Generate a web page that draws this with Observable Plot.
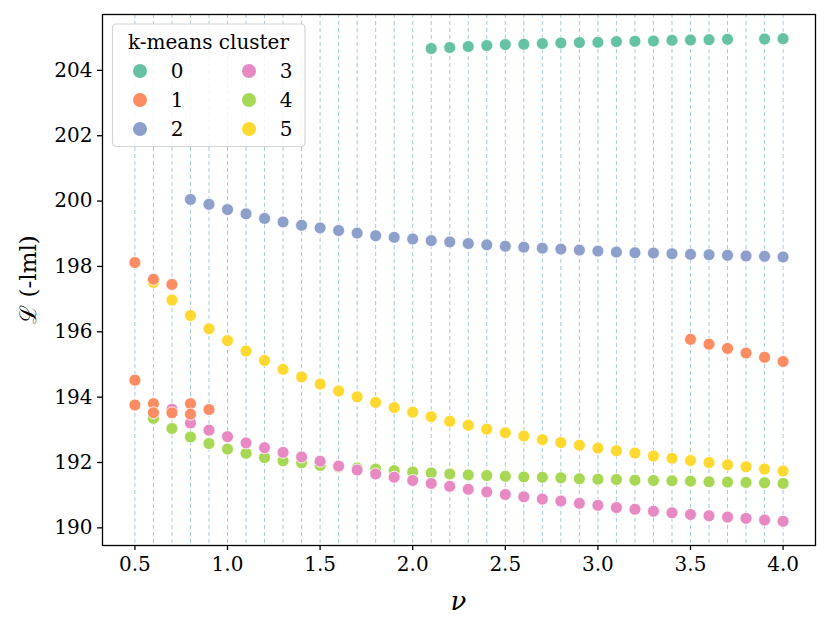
<!DOCTYPE html>
<html>
<head>
<meta charset="utf-8">
<script src="https://cdn.jsdelivr.net/npm/d3@7"></script>
<script src="https://cdn.jsdelivr.net/npm/@observablehq/plot@0.6"></script>
<style>
  html, body { margin: 0; padding: 0; background: #fff; }
  #chart svg { display: block; }
</style>
</head>
<body>
<div id="chart"></div>
<script>
// ---- data ----
const clusters = ["0", "1", "2", "3", "4", "5"];
const palette = ["#66c2a5", "#fc8d62", "#8da0cb", "#e78ac3", "#a6d854", "#ffd92f"];

const nu0 = [2.1,2.2,2.3,2.4,2.5,2.6,2.7,2.8,2.9,3.0,3.1,3.2,3.3,3.4,3.5,3.6,3.7,3.9,4.0];
const c0 = [204.67,204.70,204.73,204.76,204.79,204.80,204.82,204.84,204.85,204.86,204.88,204.89,204.90,204.92,204.93,204.94,204.95,204.96,204.97];

const nu1 = [0.5,0.5,0.5,0.6,0.6,0.6,0.7,0.7,0.8,0.8,0.9,3.5,3.6,3.7,3.8,3.9,4.0];
const c1 = [198.12,194.52,193.76,197.61,193.80,193.52,197.45,193.52,193.80,193.48,193.62,195.77,195.62,195.49,195.35,195.22,195.09];

const nu2 = [0.8,0.9,1.0,1.1,1.2,1.3,1.4,1.5,1.6,1.7,1.8,1.9,2.0,2.1,2.2,2.3,2.4,2.5,2.6,2.7,2.8,2.9,3.0,3.1,3.2,3.3,3.4,3.5,3.6,3.7,3.8,3.9,4.0];
const c2 = [200.05,199.90,199.74,199.61,199.47,199.36,199.26,199.18,199.10,199.02,198.94,198.89,198.84,198.79,198.75,198.70,198.66,198.62,198.59,198.56,198.53,198.50,198.47,198.44,198.42,198.41,198.39,198.37,198.36,198.34,198.32,198.31,198.29];

const nu3 = [0.7,0.8,0.9,1.0,1.1,1.2,1.3,1.4,1.5,1.6,1.7,1.8,1.9,2.0,2.1,2.2,2.3,2.4,2.5,2.6,2.7,2.8,2.9,3.0,3.1,3.2,3.3,3.4,3.5,3.6,3.7,3.8,3.9,4.0];
const c3 = [193.63,193.21,192.99,192.79,192.60,192.45,192.31,192.17,192.04,191.89,191.77,191.65,191.55,191.45,191.36,191.27,191.18,191.10,191.02,190.95,190.88,190.82,190.75,190.69,190.62,190.57,190.51,190.46,190.41,190.37,190.33,190.29,190.24,190.20];

const nu4 = [0.6,0.7,0.8,0.9,1.0,1.1,1.2,1.3,1.4,1.5,1.6,1.7,1.8,1.9,2.0,2.1,2.2,2.3,2.4,2.5,2.6,2.7,2.8,2.9,3.0,3.1,3.2,3.3,3.4,3.5,3.6,3.7,3.8,3.9,4.0];
const c4 = [193.35,193.04,192.78,192.58,192.41,192.28,192.15,192.05,191.99,191.91,191.86,191.83,191.80,191.75,191.71,191.68,191.65,191.62,191.60,191.58,191.56,191.55,191.53,191.50,191.49,191.48,191.46,191.45,191.44,191.43,191.41,191.40,191.39,191.38,191.36];

const nu5 = [0.6,0.7,0.8,0.9,1.0,1.1,1.2,1.3,1.4,1.5,1.6,1.7,1.8,1.9,2.0,2.1,2.2,2.3,2.4,2.5,2.6,2.7,2.8,2.9,3.0,3.1,3.2,3.3,3.4,3.5,3.6,3.7,3.8,3.9,4.0];
const c5 = [197.51,196.97,196.50,196.09,195.73,195.41,195.12,194.85,194.62,194.40,194.19,194.01,193.84,193.68,193.54,193.40,193.26,193.14,193.02,192.91,192.81,192.70,192.61,192.53,192.44,192.36,192.29,192.20,192.13,192.06,192.00,191.93,191.87,191.80,191.74];

const xTicks = [0.5,1.0,1.5,2.0,2.5,3.0,3.5,4.0];
const yTicks = [190,192,194,196,198,200,202,204];
const gridNu = [0.5,0.6,0.7,0.8,0.9,1.0,1.1,1.2,1.3,1.4,1.5,1.6,1.7,1.8,1.9,2.0,2.1,2.2,2.3,2.4,2.5,2.6,2.7,2.8,2.9,3.0,3.1,3.2,3.3,3.4,3.5,3.6,3.7,3.8,3.9,4.0];

const legendTitle = "k-means cluster";
const xLabel = "ν";
const yLabel = "ℒ (-lml)";

// ---- table ----
const series = [[nu0,c0,"0"],[nu2,c2,"2"],[nu5,c5,"5"],[nu4,c4,"4"],[nu3,c3,"3"],[nu1,c1,"1"]];
const rows = [];
for (const [xs, ys, k] of series) xs.forEach((x, i) => rows.push({nu: x, L: ys[i], cluster: k}));

const W = 830, H = 630;
const mL = 102, mR = 15, mT = 14, mB = 85;
const font = "'DejaVu Serif', serif";

const svg = Plot.plot({
  width: W, height: H,
  marginLeft: mL, marginRight: mR, marginTop: mT, marginBottom: mB,
  style: {fontFamily: font, fontSize: "20px", color: "#000", background: "#fff"},
  x: {domain: [0.325, 4.175], label: null},
  y: {domain: [189.46, 205.71], label: null},
  color: {domain: clusters, range: palette},
  marks: [
    Plot.ruleX(gridNu, {x: d => d, stroke: "#a4c8e2", strokeWidth: 1, strokeDasharray: "4,3"}),
    Plot.dot(rows, {x: "nu", y: "L", fill: "cluster", r: 6, stroke: "#fff", strokeWidth: 0.8}),
    Plot.axisX(xTicks, {tickFormat: d3.format(".1f"), tickSize: 5, tickPadding: 6, strokeWidth: 1.3, fontSize: 20, fontFamily: font, label: null}),
    Plot.axisY(yTicks, {tickFormat: d => String(d), tickSize: 5, tickPadding: 5, strokeWidth: 1.3, fontSize: 20, fontFamily: font, label: null}),
    Plot.frame({stroke: "#000", strokeWidth: 1.3})
  ]
});

const s = d3.select(svg);
// axis labels
s.append("text").attr("x", (mL + W - mR) / 2).attr("y", 610)
  .attr("text-anchor", "middle").attr("font-style", "italic")
  .attr("font-size", 26).text(xLabel);
s.append("text").attr("transform", `translate(36,${(mT + H - mB) / 2}) rotate(-90)`)
  .attr("text-anchor", "middle")
  .attr("font-size", 23).text(yLabel);

// legend
const lg = s.append("g");
lg.append("rect").attr("x", 112.5).attr("y", 24).attr("width", 192.5).attr("height", 122.5)
  .attr("rx", 4).attr("fill", "#fff").attr("fill-opacity", 0.85)
  .attr("stroke", "#d4d4d4").attr("stroke-width", 1.2);
lg.append("text").attr("x", 208.5).attr("y", 49).attr("text-anchor", "middle")
  .attr("font-size", 20).text(legendTitle);
clusters.forEach((k, i) => {
  const col = Math.floor(i / 3), row = i % 3;
  const mx = col === 0 ? 140 : 249;
  const my = 71 + row * 29;
  lg.append("circle").attr("cx", mx).attr("cy", my).attr("r", 7).attr("fill", palette[i]);
  lg.append("text").attr("x", mx + 37).attr("y", my + 7)
    .attr("font-size", 20).text(k);
});

// force serif on every text element
s.selectAll("text").style("font-family", font).style("font-variant-numeric", "normal");

document.getElementById("chart").appendChild(svg);
</script>
</body>
</html>
